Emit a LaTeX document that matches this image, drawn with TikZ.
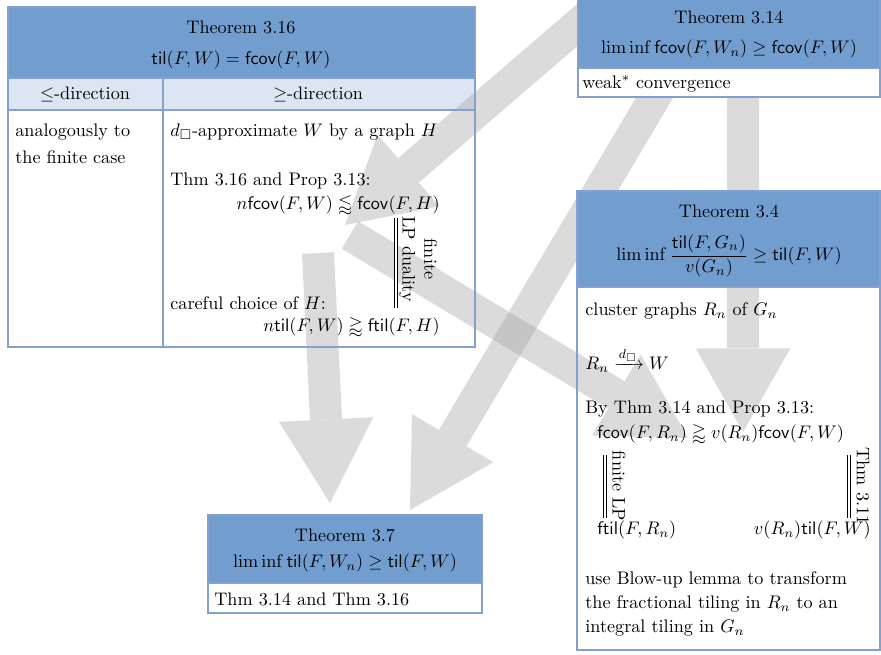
\documentclass[tikz,border=0pt]{standalone}
\usepackage{amsmath,amssymb}
\usetikzlibrary{arrows.meta}
\newcommand{\mtil}{\mathsf{til}}
\newcommand{\mftil}{\mathsf{ftil}}
\newcommand{\mfcov}{\mathsf{fcov}}
\definecolor{headblue}{RGB}{114,158,207}
\definecolor{subblue}{RGB}{220,230,243}
\definecolor{rimblue}{RGB}{132,160,204}
\definecolor{depgray}{RGB}{165,165,165}
\begin{document}
\begin{tikzpicture}[x=0.55pt, y=-0.55pt,
    head/.style={fill=headblue},
    sub/.style={fill=subblue},
    rim/.style={draw=rimblue, line width=0.6pt},
    dep/.style={draw=depgray, fill=depgray, line width=17.6pt,
      -{Triangle[width=52pt, length=46pt, line width=0pt]}},
    title/.style={inner sep=0pt},
    txt/.style={anchor=west, inner sep=0pt},
    eq/.style={anchor=east, inner sep=0pt},
    side/.style={rotate=-90, align=center, inner sep=0pt}]
  \useasboundingbox (0,0) rectangle (881,654);
  \clip (0,0) rectangle (881,654);

  % Subheader row of Theorem 3.16 (lies under the arrows)
  \fill[sub] (8,78) rectangle (475,110);

  % End points of the arrows
  \coordinate (from314a) at (618,-10);
  \coordinate (to316) at (345,225);
  \coordinate (from316a) at (318,253);
  \coordinate (to307a) at (330,503);
  \coordinate (from314b) at (668,75);
  \coordinate (to307b) at (410,510);
  \coordinate (from316b) at (350,235);
  \coordinate (to304a) at (688,438);
  \coordinate (from314c) at (743,60);
  \coordinate (to304b) at (743,432);

  % Arrows
  \foreach \a/\b in {from314a/to316, from316a/to307a, from314b/to307b,
                     from316b/to304a, from314c/to304b} {
    \begin{scope}[transparency group, opacity=0.4]
      \draw[dep] (\a) -- (\b);
    \end{scope}
  }

  % Theorem 3.16
  \fill[head] (8,7) rectangle (475,78);
  \draw[rim] (8,7) rectangle (475,347);
  \draw[rim] (8,78) -- (475,78) (8,110) -- (475,110) (163,78) -- (163,347);
  \node[title] (t316) at (241,27) {Theorem 3.16};
  \node[title] (f316) at (241,60) {$\mtil(F,W)=\mfcov(F,W)$};
  \node[title] (le316) at (85,94) {$\le$-direction};
  \node[title] (ge316) at (318,94) {$\ge$-direction};
  \node[txt] (ana) at (15,132) {analogously to};
  \node[txt] (fin) at (15,157) {the finite case};
  \node[txt] (appr) at (170,132) {$d_\square$-approximate $W$ by a graph $H$};
  \node[txt] (prop) at (170,181) {Thm 3.16 and Prop 3.13:};
  \node[eq] (cov316) at (440,205) {$n\mfcov(F,W)\lessapprox\mfcov(F,H)$};
  \node[txt] (choice) at (170,303) {careful choice of $H$:};
  \node[eq] (til316) at (440,327) {$n\mtil(F,W)\gtrapprox\mftil(F,H)$};
  \draw[double, double distance=1.3pt, line width=0.5pt] (396,218) -- (396,308);
  \node[side] (lp316) at (418,259) {finite\\LP duality};

  % Theorem 3.14
  \fill[head] (578,-5) rectangle (880,68);
  \fill[white] (578,68) rectangle (880,97);
  \draw[rim] (578,-5) rectangle (880,97);
  \draw[rim] (578,68) -- (880,68);
  \node[title] (t314) at (729,17) {Theorem 3.14};
  \node[title] (f314) at (729,49) {$\liminf\mfcov(F,W_n)\ge\mfcov(F,W)$};
  \node[txt] (weak) at (582,84) {weak$^*$ convergence};

  % Theorem 3.4
  \fill[head] (577,191) rectangle (880,287);
  \draw[rim] (577,191) rectangle (880,650);
  \draw[rim] (577,287) -- (880,287);
  \node[title] (t34) at (729,211) {Theorem 3.4};
  \node[title] (f34) at (729,256) {$\displaystyle\liminf\frac{\mtil(F,G_n)}{v(G_n)}\ge\mtil(F,W)$};
  \node[txt] (clus) at (585,311) {cluster graphs $R_n$ of $G_n$};
  \node[txt] (conv) at (585,360) {$R_n\xrightarrow{d_\square}W$};
  \node[txt] (by) at (585,409) {By Thm 3.14 and Prop 3.13:};
  \node[txt] (cov34) at (597,434) {$\mfcov(F,R_n)\gtrapprox v(R_n)\mfcov(F,W)$};
  \draw[double, double distance=1.3pt, line width=0.5pt] (605,455) -- (605,518);
  \node[side] (lp34) at (619,486) {finite LP};
  \draw[double, double distance=1.3pt, line width=0.5pt] (849,455) -- (849,518);
  \node[side] (t311) at (863,486) {Thm 3.11};
  \node[txt] (ftil34) at (597,530) {$\mftil(F,R_n)$};
  \node[eq] (til34) at (871,530) {$v(R_n)\mtil(F,W)$};
  \node[txt] (blow1) at (585,580) {use Blow-up lemma to transform};
  \node[txt] (blow2) at (585,604) {the fractional tiling in $R_n$ to an};
  \node[txt] (blow3) at (585,628) {integral tiling in $G_n$};

  % Theorem 3.7
  \fill[head] (208,515) rectangle (482,583);
  \fill[white] (208,583) rectangle (482,613);
  \draw[rim] (208,515) rectangle (482,613);
  \draw[rim] (208,583) -- (482,583);
  \node[title] (t37) at (345,535) {Theorem 3.7};
  \node[title] (f37) at (345,563) {$\liminf\mtil(F,W_n)\ge\mtil(F,W)$};
  \node[txt] (both) at (214,599) {Thm 3.14 and Thm 3.16};
\end{tikzpicture}
\end{document}
